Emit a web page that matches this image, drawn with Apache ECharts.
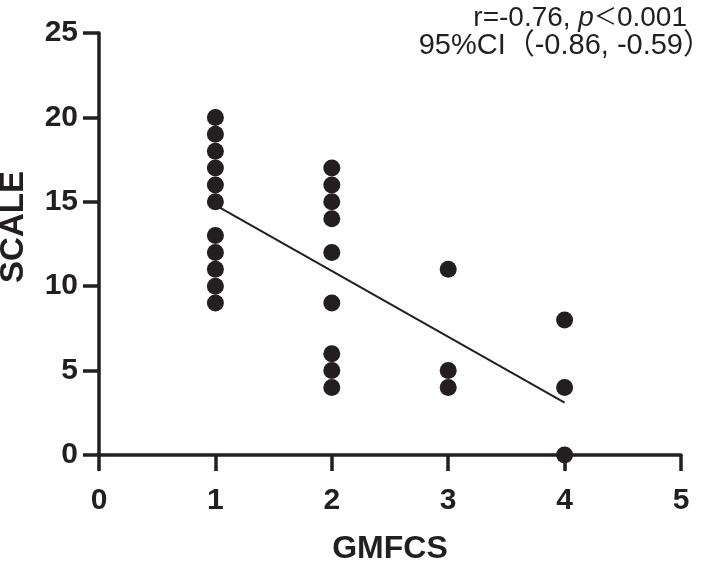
<!DOCTYPE html>
<html>
<head>
<meta charset="utf-8">
<script src="https://cdn.jsdelivr.net/npm/echarts@6/dist/echarts.min.js"></script>
<style>
html,body{margin:0;padding:0;background:#fff;}
#chart{width:712px;height:562px;}
</style>
</head>
<body>
<div id="chart"></div>
<script>
// GMFCS level and SCALE score of each observation
const gmfcs = [1,1,1,1,1,1,1,1,1,1,1, 2,2,2,2,2,2,2,2,2, 3,3,3, 4,4,4];
const scale = [20,19,18,17,16,15,13,12,11,10,9, 17,16,15,14,12,9,6,5,4, 11,5,4, 8,4,0];
// fitted regression line end points
const fitX = [1, 4];
const fitY = [14.8, 3.1];
const xTicks = [0,1,2,3,4,5];
const yTicks = [0,5,10,15,20,25];
const statR = 'r=-0.76, ';
const statP = 'p';
const statLt = '＜';
const statPval = '0.001';
const statCI = '95%CI（-0.86, -0.59）';

const ink = '#231f20';
const font = '"Liberation Sans", Arial, "Noto Sans CJK SC", sans-serif';

const points = gmfcs.map((g, i) => [g, scale[i]]);
const fit = fitX.map((x, i) => [x, fitY[i]]);

const chart = echarts.init(document.getElementById('chart'), null, {renderer: 'canvas'});
chart.setOption({
  backgroundColor: '#fff',
  animation: false,
  grid: {left: 99, right: 31, top: 33, bottom: 107, containLabel: false},
  xAxis: {
    type: 'value', min: xTicks[0], max: xTicks[xTicks.length-1], interval: 1,
    axisLine: {show: true, onZero: false, lineStyle: {color: ink, width: 3.5}},
    axisTick: {show: true, length: 16, lineStyle: {color: ink, width: 3.5}},
    axisLabel: {color: ink, fontSize: 30, fontWeight: 'bold', fontFamily: font, margin: 31},
    splitLine: {show: false}
  },
  yAxis: {
    type: 'value', min: yTicks[0], max: yTicks[yTicks.length-1], interval: 5,
    axisLine: {show: true, onZero: false, lineStyle: {color: ink, width: 3.5}},
    axisTick: {show: true, length: 16, lineStyle: {color: ink, width: 3.5}},
    axisLabel: {color: ink, fontSize: 30, fontWeight: 'bold', fontFamily: font, margin: 21},
    splitLine: {show: false}
  },
  graphic: [
    {type: 'text', x: 390, y: 549, silent: true,
     style: {text: 'GMFCS', fill: ink, font: 'bold 32px ' + font, textAlign: 'center', textVerticalAlign: 'middle'}},
    {type: 'text', x: 14, y: 227, rotation: Math.PI/2, silent: true,
     style: {text: 'SCALE', fill: ink, font: 'bold 33px ' + font, textAlign: 'center', textVerticalAlign: 'middle'}},
    {type: 'text', x: 687, y: 18, silent: true,
     style: {
       text: statR + '{i|' + statP + '}{lt|' + statLt + '}' + statPval,
       fill: ink, font: '28px ' + font, textAlign: 'right', textVerticalAlign: 'middle',
       rich: {
         i: {fontStyle: 'italic', fontSize: 28, fontFamily: font, fill: ink},
         lt: {fontSize: 23, fontFamily: font, fill: ink}
       }
     }},
    {type: 'text', x: 712, y: 46, silent: true,
     style: {text: statCI, fill: ink, font: '29px ' + font, textAlign: 'right', textVerticalAlign: 'middle'}}
  ],
  series: [
    {
      type: 'line', data: fit, symbol: 'none', silent: true,
      lineStyle: {color: ink, width: 2}, z: 1
    },
    {
      type: 'scatter', data: points, symbol: 'circle', symbolSize: 17,
      itemStyle: {color: ink, opacity: 1}, z: 2
    }
  ]
});
</script>
</body>
</html>
